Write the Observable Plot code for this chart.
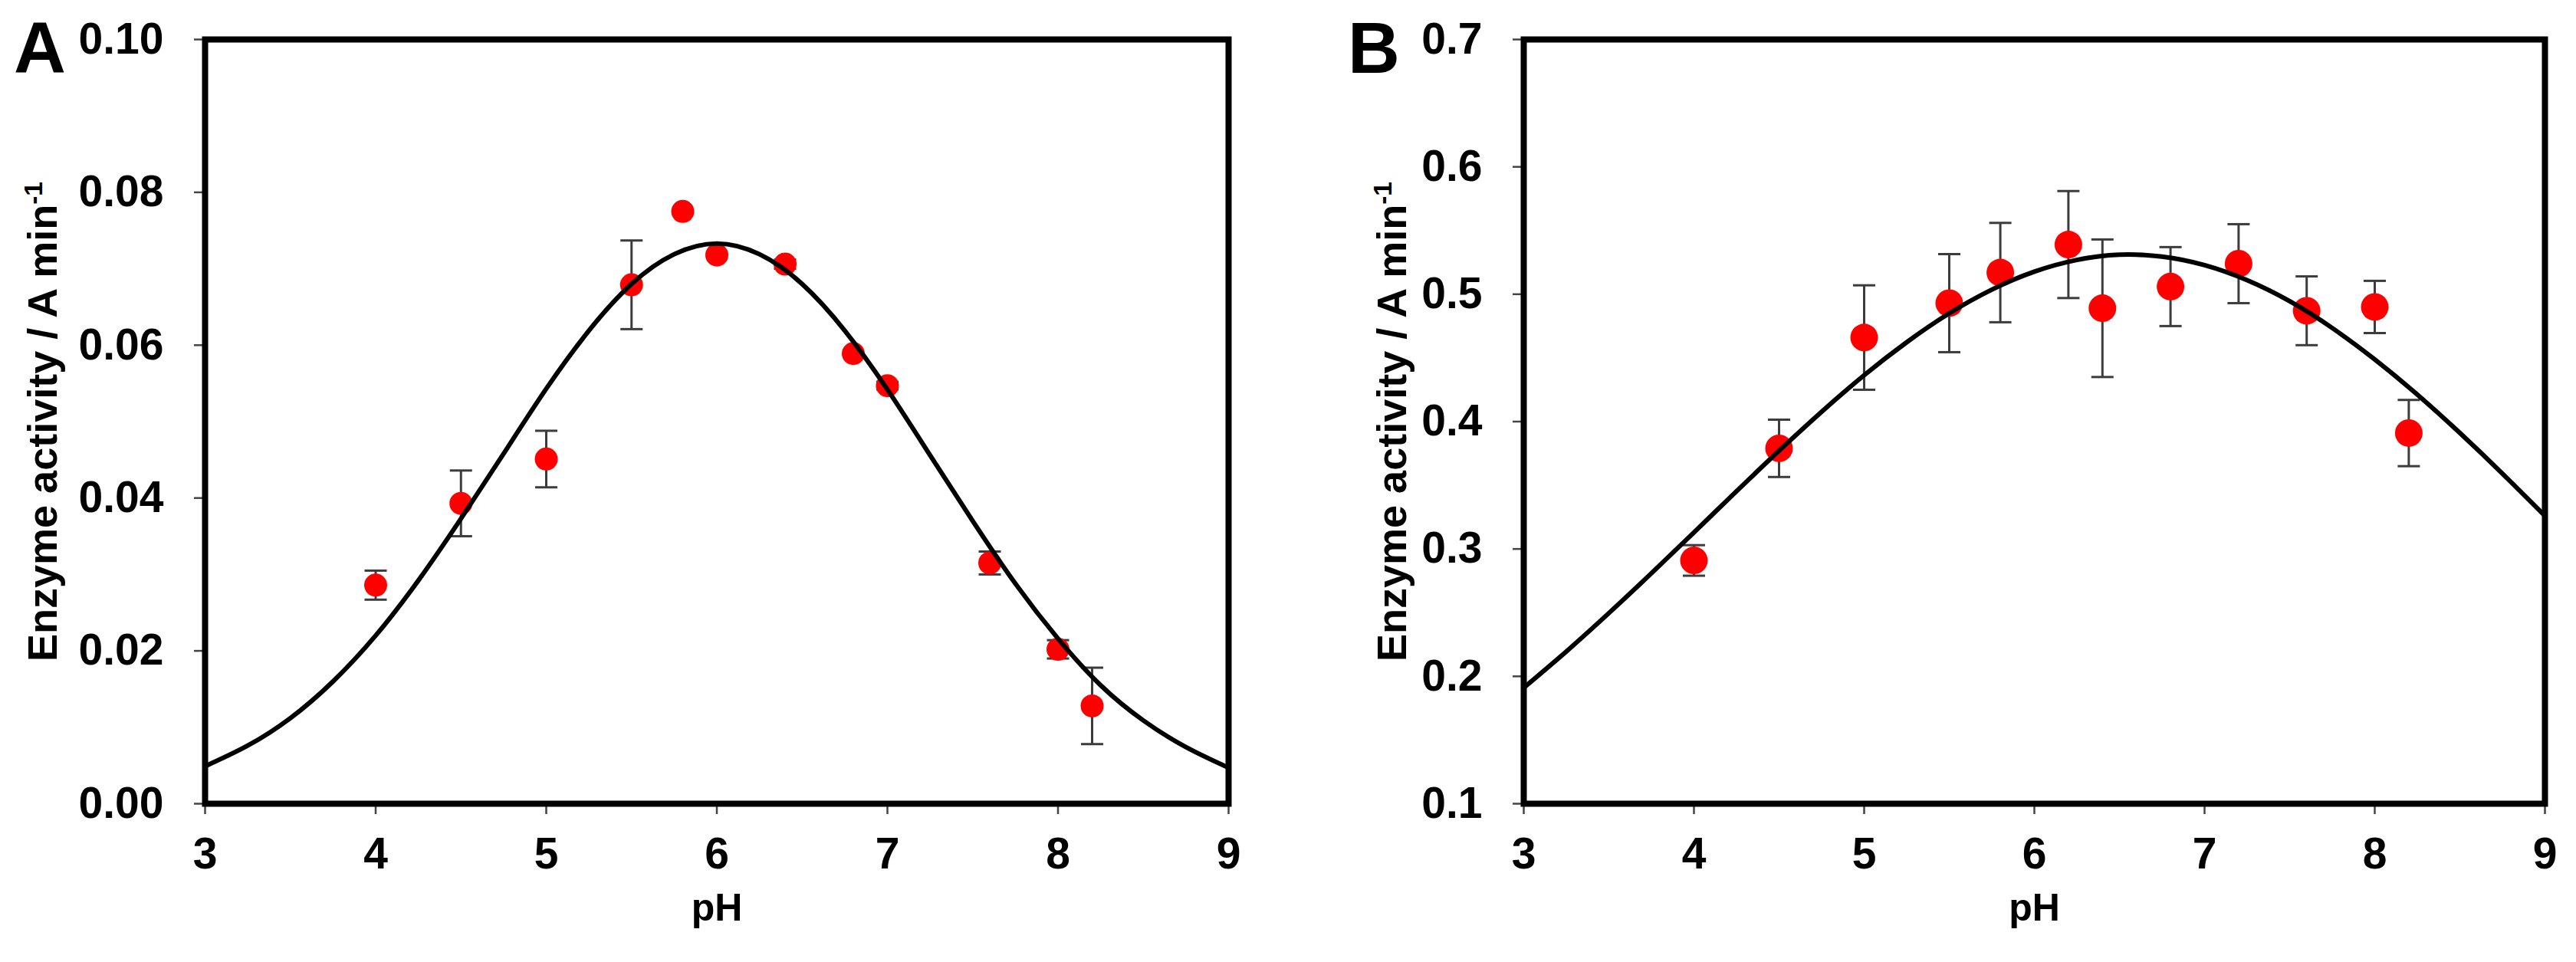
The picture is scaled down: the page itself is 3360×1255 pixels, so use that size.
<!DOCTYPE html>
<html><head><meta charset="utf-8">
<script src="https://cdn.jsdelivr.net/npm/d3@7"></script>
<script src="https://cdn.jsdelivr.net/npm/@observablehq/plot@0.6"></script>
<style>
html,body{margin:0;padding:0;background:#fff;}
#wrap{position:relative;width:3360px;height:1255px;overflow:hidden;background:#fff;}
#wrap svg{position:absolute;top:0;}
.letter{position:absolute;font-family:"Liberation Sans",Arial,sans-serif;font-weight:bold;font-size:94px;line-height:1;color:#000;}
</style></head><body>
<div id="wrap">
  <div class="letter" style="left:18px;top:16px;">A</div>
  <div class="letter" style="left:1758px;top:16px;">B</div>
</div>
<script>
// ---------- Data ----------
const xTicks = [3, 4, 5, 6, 7, 8, 9];

// Panel A
const phA  = [4.0, 4.5, 5.0, 5.5, 5.8, 6.0, 6.4, 6.8, 7.0, 7.6, 8.0, 8.2];
const actA = [0.0286, 0.0393, 0.0451, 0.0679, 0.0775, 0.0718, 0.0706, 0.0589, 0.0547, 0.0315, 0.0202, 0.0128];
const errA = [0.0019, 0.0043, 0.0037, 0.0058, 0, 0, 0.0006, 0, 0.0005, 0.0015, 0.0012, 0.0050];
const fitPhA  = [3.0, 3.25, 3.5, 3.75, 4.0, 4.25, 4.5, 4.75, 5.0, 5.25, 5.5, 5.75, 6.0, 6.25, 6.5, 6.75, 7.0, 7.25, 7.5, 7.75, 8.0, 8.25, 8.5, 8.75, 9.0];
const fitActA = [0.0049, 0.0076, 0.0112, 0.0160, 0.0220, 0.0292, 0.0373, 0.0458, 0.0543, 0.0619, 0.0680, 0.0719, 0.0733, 0.0719, 0.0680, 0.0619, 0.0542, 0.0456, 0.0370, 0.0288, 0.0216, 0.0155, 0.0109, 0.0074, 0.0047];
const yTicksA = [0, 0.02, 0.04, 0.06, 0.08, 0.10];

// Panel B
const phB  = [4.0, 4.5, 5.0, 5.5, 5.8, 6.2, 6.4, 6.8, 7.2, 7.6, 8.0, 8.2];
const actB = [0.291, 0.379, 0.466, 0.493, 0.517, 0.539, 0.489, 0.506, 0.524, 0.487, 0.490, 0.391];
const errB = [0.012, 0.0225, 0.041, 0.0385, 0.039, 0.042, 0.054, 0.031, 0.031, 0.027, 0.0205, 0.026];
const fitPhB  = [3.0, 3.25, 3.5, 3.75, 4.0, 4.25, 4.5, 4.75, 5.0, 5.25, 5.5, 5.75, 6.0, 6.25, 6.5, 6.75, 7.0, 7.25, 7.5, 7.75, 8.0, 8.25, 8.5, 8.75, 9.0];
const fitActB = [0.191, 0.2195, 0.2496, 0.2809, 0.313, 0.3453, 0.3771, 0.4077, 0.4364, 0.4623, 0.485, 0.5036, 0.5177, 0.5269, 0.531, 0.5295, 0.5228, 0.511, 0.4945, 0.4735, 0.4488, 0.4212, 0.3911, 0.3592, 0.326];
const yTicksB = [0.1, 0.2, 0.3, 0.4, 0.5, 0.6, 0.7];

const yLabelMain = "Enzyme activity / A min";
const yLabelSup = "-1";

// ---------- Drawing ----------
const tickFont = '"Liberation Sans",Arial,sans-serif';
const labelFont = '"Liberation Sans",Arial,sans-serif';

function panel(o) {
  const pts = o.ph.map((x, i) => ({x, y: o.act[i], e: o.err[i]}));
  const bars = pts.filter(d => d.e > 0);
  const fit = o.fx.map((x, i) => ({x, y: o.fy[i]}));
  const cap = {draw(ctx) { ctx.moveTo(-14.5, 0); ctx.lineTo(14.5, 0); }};
  const svg = Plot.plot({
    width: 1680, height: 1255,
    marginLeft: o.ml, marginRight: o.mr, marginTop: 51, marginBottom: 207,
    style: {background: "transparent", overflow: "visible", color: "#000"},
    x: {domain: [3, 9]},
    y: {domain: o.ydom},
    marks: [
      Plot.axisX(xTicks, {tickFormat: d3.format("d"), tickSize: 14, tickPadding: 30, stroke: "#444", strokeWidth: 2.5, fill: "#000",
        fontFamily: tickFont, fontSize: 57, fontWeight: "bold", label: null}),
      Plot.axisX([], {label: "pH", labelArrow: "none", labelAnchor: "center", labelOffset: 152, fontFamily: labelFont, fontSize: 50, fontWeight: "bold", fill: "#000"}),
      Plot.axisY(o.yticks, {tickFormat: d3.format(o.fmt), tickSize: 14, tickPadding: 40, stroke: "#444", strokeWidth: 2.5, fill: "#000",
        fontFamily: tickFont, fontSize: 57, fontWeight: "bold", label: null}),
      Plot.axisY([], {label: yLabelMain + yLabelSup, labelArrow: "none", labelAnchor: "center", labelOffset: o.lo, fontFamily: labelFont, fontSize: 54, fontWeight: "bold", fill: "#000"}),
      Plot.ruleX(bars, {x: "x", y1: d => d.y - d.e, y2: d => d.y + d.e, stroke: "#3c3c3c", strokeWidth: 3}),
      Plot.dot(bars, {x: "x", y: d => d.y + d.e, symbol: cap, stroke: "#3c3c3c", strokeWidth: 3}),
      Plot.dot(bars, {x: "x", y: d => d.y - d.e, symbol: cap, stroke: "#3c3c3c", strokeWidth: 3}),
      Plot.dot(pts, {x: "x", y: "y", r: o.r, fill: "#ff0000", stroke: "none"}),
      Plot.line(fit, {x: "x", y: "y", curve: "natural", stroke: "#000", strokeWidth: 6}),
      Plot.frame({stroke: "#000", strokeWidth: 8})
    ]
  });
  svg.style.left = o.left + "px";
  // superscript "-1"
  svg.querySelectorAll("text").forEach(t => {
    if (t.textContent.startsWith(yLabelMain)) {
      t.textContent = yLabelMain;
      const ts = document.createElementNS("http://www.w3.org/2000/svg", "tspan");
      ts.setAttribute("dy", "-0.55em");
      ts.setAttribute("font-size", "0.62em");
      ts.textContent = yLabelSup;
      t.appendChild(ts);
    }
  });
  return svg;
}

const wrap = document.getElementById("wrap");
wrap.appendChild(panel({left: 0, ml: 267, mr: 78, ph: phA, act: actA, err: errA, fx: fitPhA, fy: fitActA,
  ydom: [0, 0.10], yticks: yTicksA, fmt: ".2f", lo: 232, r: 15}));
wrap.appendChild(panel({left: 1680, ml: 307, mr: 41, ph: phB, act: actB, err: errB, fx: fitPhB, fy: fitActB,
  ydom: [0.1, 0.7], yticks: yTicksB, fmt: ".1f", lo: 192, r: 18}));
</script>
</body></html>
